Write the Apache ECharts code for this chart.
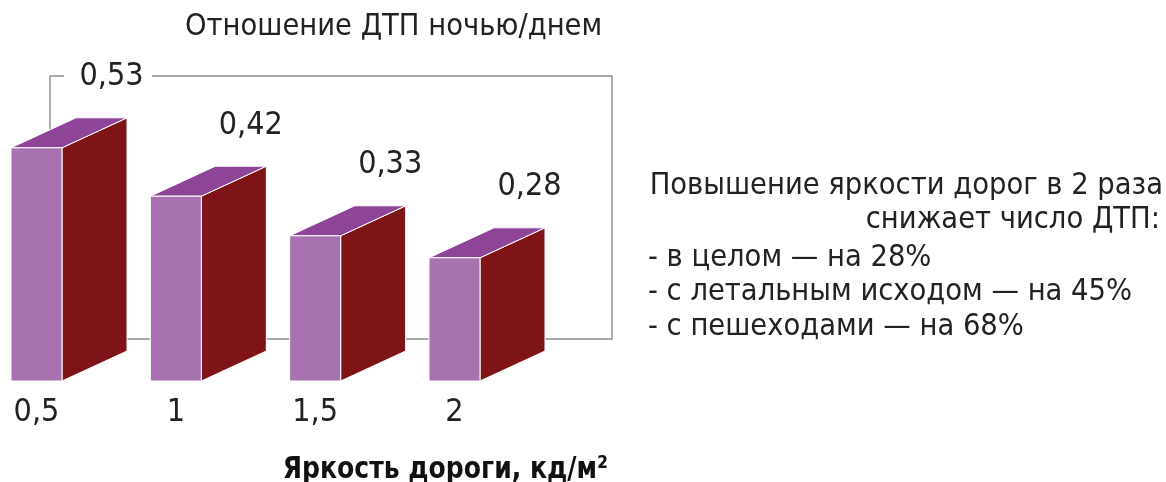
<!DOCTYPE html>
<html><head><meta charset="utf-8">
<script src="https://cdn.jsdelivr.net/npm/echarts@6/dist/echarts.min.js"></script>
<style>html,body{margin:0;padding:0;background:#fff}#c{width:1166px;height:482px}</style>
</head><body><div id="c"></div>
<script>
var categories = ['0,5', '1', '1,5', '2'];
var ratios = [0.53, 0.42, 0.33, 0.28];
var titleText = 'Отношение ДТП ночью/днем';
var axisTitle = 'Яркость дороги, кд/м²';
var noteHead = ['Повышение яркости дорог в 2 раза', 'снижает число ДТП:'];
var noteItems = ['- в целом — на 28%', '- с летальным исходом — на 45%', '- с пешеходами — на 68%'];

var FONT = "'DejaVu Sans Condensed', 'Liberation Sans Narrow', sans-serif";
var chart = echarts.init(document.getElementById('c'));
var FW = 51, DX = 65, DY = -30;

function renderItem(params, api) {
  var i = api.value(0), v = api.value(1);
  var top = api.coord([i, v]);
  var base = api.coord([i, 0]);
  var l = top[0] - FW / 2, r = top[0] + FW / 2, t = top[1], b = base[1];
  return {
    type: 'group',
    children: [
      { type: 'polygon', shape: { points: [[r, t], [r + DX, t + DY], [r + DX, b + DY], [r, b]] },
        style: { fill: '#7e1418', stroke: '#ffffff', lineWidth: 1 } },
      { type: 'polygon', shape: { points: [[l, t], [r, t], [r + DX, t + DY], [l + DX, t + DY]] },
        style: { fill: '#8f4597', stroke: '#ffffff', lineWidth: 1 } },
      { type: 'rect', shape: { x: l, y: t, width: FW, height: b - t },
        style: { fill: '#a872b1', stroke: '#ffffff', lineWidth: 1 } },
      { type: 'text', x: top[0] + 75, y: t - 71,
        style: { text: String(v).replace('.', ','), font: '32px ' + FONT, fill: '#222', align: 'center', verticalAlign: 'middle' } }
    ]
  };
}

var TF = '30.5px ' + FONT;
var graphics = [
  { type: 'polyline', z: 0, shape: { points: [[64, 76], [50, 76], [50, 339], [612, 339], [612, 76], [152, 76]] },
    style: { stroke: '#8f8f8f', lineWidth: 1.4, fill: null } },
  { type: 'text', z: 5, x: 185, y: 27, style: { text: titleText, font: TF, fill: '#222', align: 'left', verticalAlign: 'middle' } },
  { type: 'text', z: 5, x: 608, y: 470, scaleX: 0.9, style: { text: axisTitle, font: 'bold 31px ' + FONT, fill: '#111', align: 'right', verticalAlign: 'middle' } },
  { type: 'text', z: 5, x: 1163, y: 186, style: { text: noteHead[0], font: TF, fill: '#222', align: 'right', verticalAlign: 'middle' } },
  { type: 'text', z: 5, x: 1160, y: 220, style: { text: noteHead[1], font: TF, fill: '#222', align: 'right', verticalAlign: 'middle' } }
];
noteItems.forEach(function (s, k) {
  graphics.push({ type: 'text', z: 5, x: 648, y: 258 + k * 34.5, style: { text: s, font: TF, fill: '#222', align: 'left', verticalAlign: 'middle' } });
});

chart.setOption({
  animation: false,
  backgroundColor: '#fff',
  grid: { left: 36.5, right: 1166 - 454.5, top: 117, bottom: 101 },
  xAxis: { type: 'category', data: categories, boundaryGap: false,
    axisLine: { show: false }, axisTick: { show: false },
    axisLabel: { margin: 16, fontSize: 32, fontFamily: FONT, color: '#222' } },
  yAxis: { type: 'value', min: 0, max: 0.6, show: false },
  graphic: graphics,
  series: [{ type: 'custom', z: 3, renderItem: renderItem, data: ratios.map(function (v, i) { return [i, v]; }) }]
});
</script></body></html>
